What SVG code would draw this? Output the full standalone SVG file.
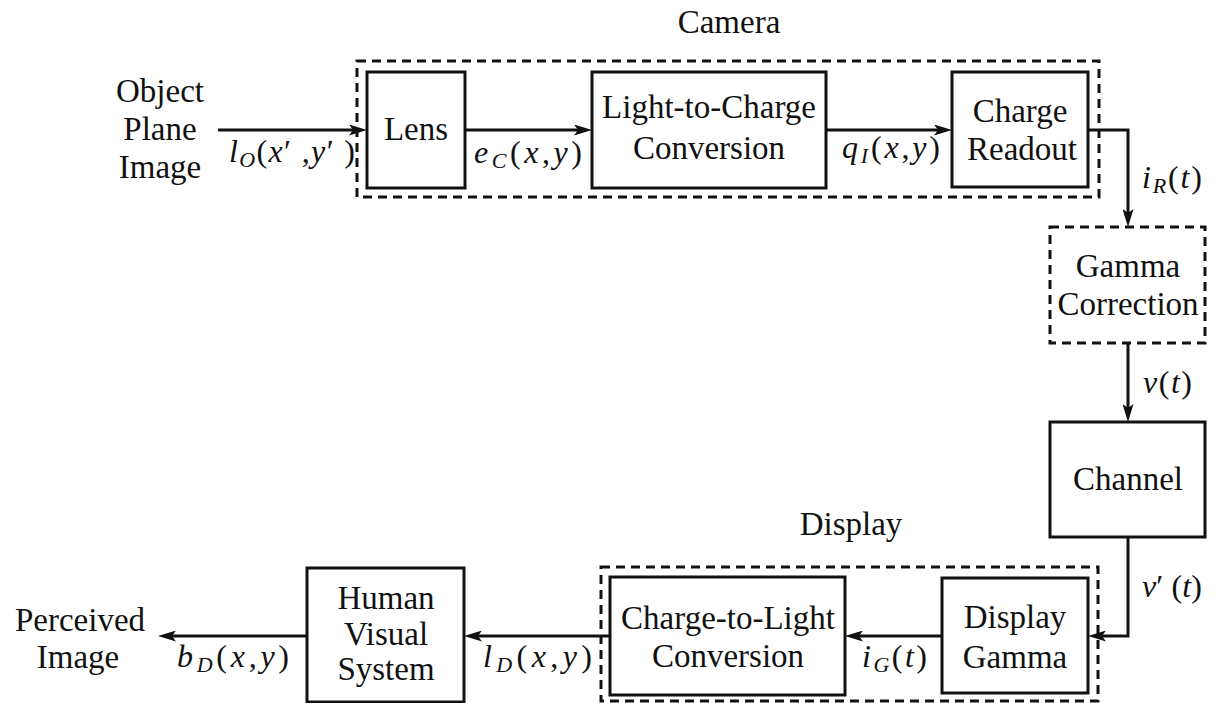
<svg xmlns="http://www.w3.org/2000/svg" width="1215" height="703" viewBox="0 0 1215 703">
<style>
text{font-family:"Liberation Serif","Times New Roman",serif;font-size:33px;fill:#111;}
.c{text-anchor:middle;}
.m{font-size:32px;}
.i{font-style:italic;}
.s{font-size:22px;font-style:italic;}
.box{fill:none;stroke:#111;stroke-width:3;}
.dash{fill:none;stroke:#111;stroke-width:3;stroke-dasharray:9 6;}
.wire{fill:none;stroke:#111;stroke-width:3;}
</style>
<defs>
<marker id="ah" markerUnits="userSpaceOnUse" markerWidth="18" markerHeight="11" refX="11" refY="5.5" orient="auto">
<path d="M0,0 L18,5.5 L0,11 L4,5.5 z" fill="#111"/>
</marker>
</defs>
<rect width="1215" height="703" fill="#fff"/>

<g id="camera-group">
<rect class="dash" x="357" y="61" width="742" height="136"/>
<text class="c" x="729" y="33">Camera</text>
</g>
<g id="display-group">
<rect class="dash" x="601" y="567" width="497" height="134"/>
<text class="c" x="851" y="535">Display</text>
</g>

<g id="input-label">
<text class="c" x="160" y="102">Object</text>
<text class="c" x="160" y="140">Plane</text>
<text class="c" x="160" y="178">Image</text>
</g>
<g id="lens">
<rect class="box" x="367" y="72" width="98" height="116"/>
<text class="c" x="416" y="140">Lens</text>
</g>
<g id="light-to-charge">
<rect class="box" x="592" y="72" width="234" height="116"/>
<text class="c" x="709" y="118">Light-to-Charge</text>
<text class="c" x="709" y="159">Conversion</text>
</g>
<g id="charge-readout">
<rect class="box" x="952" y="72" width="136" height="115"/>
<text class="c" x="1020" y="122">Charge</text>
<text class="c" x="1022" y="160">Readout</text>
</g>
<g id="gamma-correction">
<rect class="dash" x="1050" y="227" width="155" height="116"/>
<text class="c" x="1128" y="277">Gamma</text>
<text class="c" x="1128" y="315">Correction</text>
</g>
<g id="channel">
<rect class="box" x="1050" y="422" width="155" height="115"/>
<text class="c" x="1128" y="490">Channel</text>
</g>
<g id="display-gamma">
<rect class="box" x="942" y="578" width="146" height="115"/>
<text class="c" x="1015" y="628">Display</text>
<text class="c" x="1015" y="668">Gamma</text>
</g>
<g id="charge-to-light">
<rect class="box" x="610" y="577" width="235" height="118"/>
<text class="c" x="728" y="629">Charge-to-Light</text>
<text class="c" x="728" y="667">Conversion</text>
</g>
<g id="human-visual-system">
<rect class="box" x="307" y="568" width="157" height="134"/>
<text class="c" x="386" y="609">Human</text>
<text class="c" x="386" y="645">Visual</text>
<text class="c" x="386" y="680">System</text>
</g>
<g id="output-label">
<text class="c" x="80" y="631">Perceived</text>
<text class="c" x="78" y="668">Image</text>
</g>

<g id="connectors">
<path class="wire" marker-end="url(#ah)" d="M218,130 H360"/>
<path class="wire" marker-end="url(#ah)" d="M465,130 H585"/>
<path class="wire" marker-end="url(#ah)" d="M826,130 H945"/>
<path class="wire" marker-end="url(#ah)" d="M1088,130 H1128 V220"/>
<path class="wire" marker-end="url(#ah)" d="M1128,343 V415"/>
<path class="wire" marker-end="url(#ah)" d="M1128,537 V636 H1095"/>
<path class="wire" marker-end="url(#ah)" d="M942,636 H852"/>
<path class="wire" marker-end="url(#ah)" d="M610,636 H471"/>
<path class="wire" marker-end="url(#ah)" d="M307,636 H165"/>
</g>

<g id="signal-labels">
<text class="m" x="229" y="162" textLength="126" lengthAdjust="spacing"><tspan class="i">l</tspan><tspan class="s" dy="5">O</tspan><tspan dy="-5">(</tspan><tspan class="i">x</tspan>′ ,<tspan class="i">y</tspan>′ )</text>
<text class="m" x="474" y="163" textLength="108" lengthAdjust="spacing"><tspan class="i">e</tspan><tspan class="s" dy="5">C</tspan><tspan dy="-5">(</tspan><tspan class="i">x</tspan>,<tspan class="i">y</tspan>)</text>
<text class="m" x="842" y="158" textLength="98" lengthAdjust="spacing"><tspan class="i">q</tspan><tspan class="s" dy="5">I</tspan><tspan dy="-5">(</tspan><tspan class="i">x</tspan>,<tspan class="i">y</tspan>)</text>
<text class="m" x="1142" y="188" textLength="60" lengthAdjust="spacing"><tspan class="i">i</tspan><tspan class="s" dy="5">R</tspan><tspan dy="-5">(</tspan><tspan class="i">t</tspan>)</text>
<text class="m" x="1143" y="393" textLength="49" lengthAdjust="spacing"><tspan class="i">v</tspan>(<tspan class="i">t</tspan>)</text>
<text class="m" x="1142" y="597" textLength="60" lengthAdjust="spacing"><tspan class="i">v</tspan>′ (<tspan class="i">t</tspan>)</text>
<text class="m" x="862" y="667" textLength="65" lengthAdjust="spacing"><tspan class="i">i</tspan><tspan class="s" dy="5">G</tspan><tspan dy="-5">(</tspan><tspan class="i">t</tspan>)</text>
<text class="m" x="483" y="667" textLength="109" lengthAdjust="spacing"><tspan class="i">l</tspan><tspan class="s" dy="5">D</tspan><tspan dy="-5">(</tspan><tspan class="i">x</tspan>,<tspan class="i">y</tspan>)</text>
<text class="m" x="177" y="667" textLength="112" lengthAdjust="spacing"><tspan class="i">b</tspan><tspan class="s" dy="5">D</tspan><tspan dy="-5">(</tspan><tspan class="i">x</tspan>,<tspan class="i">y</tspan>)</text>
</g>
</svg>
